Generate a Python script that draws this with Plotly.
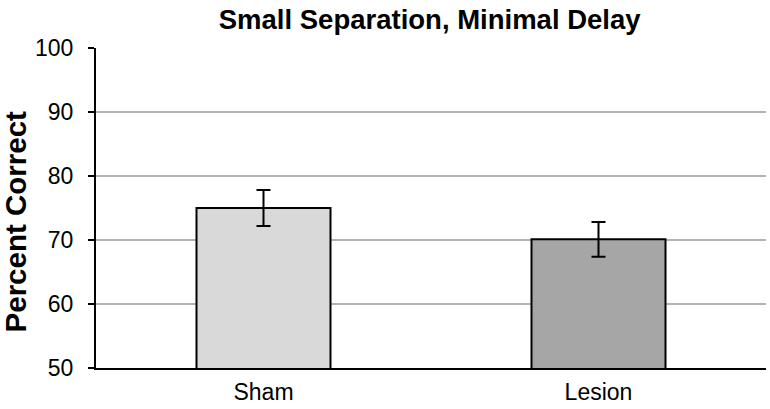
import plotly.graph_objects as go

categories = ["Sham", "Lesion"]
values = [75.0, 70.1]
errors = [2.8, 2.7]
colors = ["#d9d9d9", "#a6a6a6"]
y_ticks = [50, 60, 70, 80, 90, 100]

fig = go.Figure()
fig.add_trace(go.Bar(
    x=categories, y=values,
    marker=dict(color=colors, line=dict(color="black", width=2)),
    error_y=dict(type="data", array=errors, visible=True, color="black", thickness=2, width=7),
    width=0.4,
))

fig.update_layout(
    width=770, height=409,
    margin=dict(l=96, r=4, t=48, b=37),
    paper_bgcolor="white", plot_bgcolor="white",
    font=dict(family="Liberation Sans, Arial, sans-serif", color="black"),
    title=dict(text="<b>Small Separation, Minimal Delay</b>", x=0.558, xanchor="center",
               y=0.9535, yanchor="middle", font=dict(size=27.5, color="black")),
    showlegend=False,
    annotations=[dict(text="<b>Percent Correct</b>", textangle=-90, xref="paper", yref="paper",
                      x=0, y=0.458, xanchor="center", yanchor="middle", xshift=-81,
                      showarrow=False, font=dict(size=29.5, color="black"))],
)
fig.update_xaxes(showline=True, linecolor="black", linewidth=2, tickfont=dict(size=23),
                 ticks="", showgrid=False, ticklabelstandoff=2)
fig.update_yaxes(range=[50, 100], tickvals=y_ticks, showline=True, linecolor="black", linewidth=2,
                 ticks="outside", ticklen=6, tickwidth=2, tickcolor="black",
                 showgrid=True, gridcolor="#b3b3b3", gridwidth=2, zeroline=False,
                 tickfont=dict(size=23), ticklabelstandoff=10)

# remove the browser's default 8px body margin so the figure sits at the window's corner
fig.write_html("out.html", config={"displayModeBar": False},
               post_script="document.body.style.margin='0px';")
